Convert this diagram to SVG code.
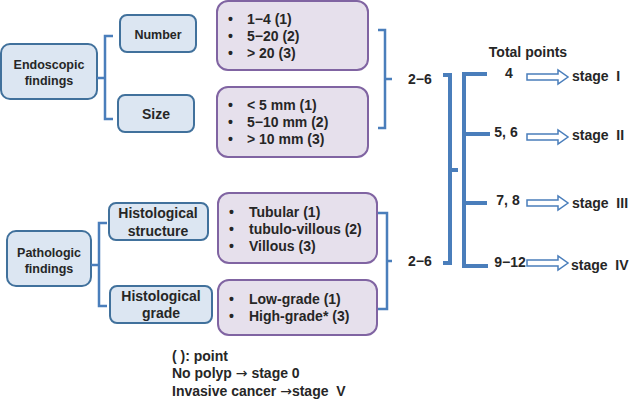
<svg xmlns="http://www.w3.org/2000/svg" width="630" height="400" viewBox="0 0 630 400">
<style>
text{font-family:"Liberation Sans",Arial,sans-serif;font-weight:bold;fill:#262626}
.ar2{font-family:"DejaVu Sans",sans-serif;font-weight:normal}
.bb{fill:#dce6f2;stroke:#41719c;stroke-width:2}
.pb{fill:#e6e0ec;stroke:#8064a2;stroke-width:2}
.c{fill:none;stroke:#4a7ebb;stroke-width:2.5}
.cb{fill:none;stroke:#4a7ebb;stroke-width:4}
.ar{fill:#fff;stroke:#4a7ebb;stroke-width:1.5}
.t13{font-size:12.5px}
.t14{font-size:14px}
.mid{text-anchor:middle}
</style>
<g id="endoscopic"><rect class="bb" x="1" y="44" width="96" height="55" rx="9"/><text class="t13 mid" x="49" y="69">Endoscopic</text><text class="t13 mid" x="49" y="85">findings</text></g>
<g id="number"><rect class="bb" x="120" y="15" width="76" height="37" rx="7"/><text class="t13 mid" x="158" y="39">Number</text></g>
<g id="size"><rect class="bb" x="118" y="95" width="76" height="37" rx="7"/><text class="t14 mid" x="156" y="119">Size</text></g>
<g id="pathologic"><rect class="bb" x="7" y="231" width="84" height="55" rx="9"/><text class="t13 mid" x="49" y="257">Pathologic</text><text class="t13 mid" x="49" y="273">findings</text></g>
<g id="hstructure"><rect class="bb" x="109" y="203" width="99" height="37" rx="7"/><text class="t14 mid" x="158" y="218">Histological</text><text class="t14 mid" x="158" y="236">structure</text></g>
<g id="hgrade"><rect class="bb" x="110" y="286" width="102" height="37" rx="7"/><text class="t14 mid" x="161" y="301">Histological</text><text class="t14 mid" x="161" y="318">grade</text></g>
<g id="numlist"><rect class="pb" x="217" y="1" width="151" height="69" rx="11"/>
<text class="t14" x="228" y="24">•</text><text class="t14" x="247" y="24">1−4 (1)</text>
<text class="t14" x="228" y="41">•</text><text class="t14" x="247" y="41">5−20 (2)</text>
<text class="t14" x="228" y="58">•</text><text class="t14" x="247" y="58">&gt; 20 (3)</text></g>
<g id="sizelist"><rect class="pb" x="217" y="87" width="151" height="70" rx="11"/>
<text class="t14" x="228" y="110">•</text><text class="t14" x="247" y="110">&lt; 5 mm (1)</text>
<text class="t14" x="228" y="127">•</text><text class="t14" x="247" y="127">5−10 mm (2)</text>
<text class="t14" x="228" y="144">•</text><text class="t14" x="247" y="144">&gt; 10 mm (3)</text></g>
<g id="structlist"><rect class="pb" x="218" y="193" width="159" height="70" rx="11"/>
<text class="t14" x="229" y="217">•</text><text class="t14" x="249" y="217">Tubular (1)</text>
<text class="t14" x="229" y="234">•</text><text class="t14" x="249" y="234">tubulo-villous (2)</text>
<text class="t14" x="229" y="251">•</text><text class="t14" x="249" y="251">Villous (3)</text></g>
<g id="gradelist"><rect class="pb" x="218" y="280" width="159" height="55" rx="11"/>
<text class="t14" x="229" y="304">•</text><text class="t14" x="249" y="304">Low-grade (1)</text>
<text class="t14" x="229" y="321">•</text><text class="t14" x="249" y="321">High-grade* (3)</text></g>
<g id="connectors">
<path class="c" d="M113,36 H105 V119 H113 M97,78 H105"/>
<path class="c" d="M107,223 H99 V306 H107 M91,265 H99"/>
<path class="c" d="M378,30 H385 V128 H378 M385,79 H392"/>
<path class="c" d="M378,213 H387 V309 H378 M387,261 H392"/>
<path class="cb" d="M443,75 H450 V263 H443 M450,170 H458"/>
<path class="cb" d="M487,74 H464 V266 H488 M464,134 H490 M464,203 H487"/>
<path class="ar" d="M527,74 H558 V70 L568,77 L558,84 V80 H527 Z"/>
<path class="ar" d="M527,134 H558 V130 L568,137 L558,144 V140 H527 Z"/>
<path class="ar" d="M527,200 H558 V196 L568,203 L558,210 V206 H527 Z"/>
<path class="ar" d="M527,260 H558 V256 L568,263 L558,270 V266 H527 Z"/>
</g>
<g id="labels">
<text class="t14" x="408" y="84">2−6</text>
<text class="t14" x="408" y="266">2−6</text>
<text class="t14 mid" x="528" y="57">Total points</text>
<text class="t14 mid" x="509" y="78">4</text>
<text class="t14 mid" x="506" y="137">5, 6</text>
<text class="t14 mid" x="508" y="205">7, 8</text>
<text class="t14 mid" x="510" y="267">9−12</text>
<text class="t14" x="572" y="81" xml:space="preserve">stage  I</text>
<text class="t14" x="572" y="140" xml:space="preserve">stage  II</text>
<text class="t14" x="572" y="208" xml:space="preserve">stage  III</text>
<text class="t14" x="571" y="270" xml:space="preserve">stage  IV</text>
<text class="t14" x="172" y="361">( ): point</text>
<text class="t14" x="172" y="378" xml:space="preserve">No polyp <tspan class="ar2">→</tspan> stage 0</text>
<text class="t14" x="172" y="396" xml:space="preserve">Invasive cancer <tspan class="ar2">→</tspan>stage  V</text>
</g>
</svg>
